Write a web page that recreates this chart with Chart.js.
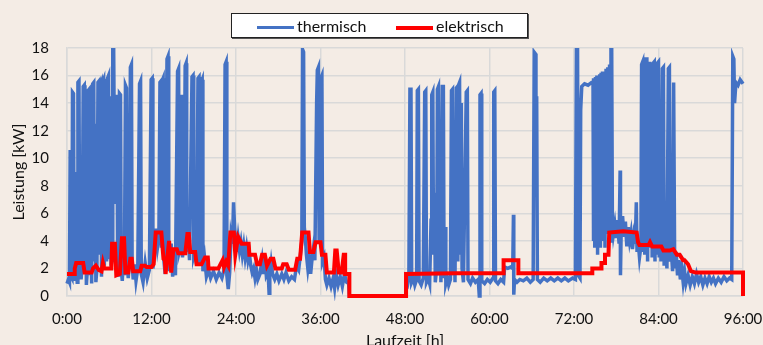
<!DOCTYPE html>
<html>
<head>
<meta charset="utf-8">
<script src="https://cdn.jsdelivr.net/npm/chart.js@4.4.1/dist/chart.umd.min.js"></script>
<style>
  body { margin: 0; background: #f4ece5; font-family: Lato, "Open Sans", sans-serif; }
  #wrap { position: relative; width: 763px; height: 345px; }
  #legende {
    position: absolute; left: 231px; top: 13px; width: 295px; height: 23px;
    background: #fff; border: 1px solid #222; box-shadow: 1px 1px 0 #555;
    font-size: 16px; color: #111;
  }
  #legende .item { position: absolute; top: 1px; line-height: 21px; }
  #legende .strich { display: inline-block; width: 37px; vertical-align: middle; margin-right: 3px; }
</style>
</head>
<body>
<div id="wrap">
  <canvas id="leistungChart" width="763" height="345"></canvas>
  <div id="legende">
    <span class="item" style="left:25px"><span class="strich" style="border-top:3px solid #4472c4"></span>thermisch</span>
    <span class="item" style="left:164px"><span class="strich" style="border-top:4px solid #ff0000"></span>elektrisch</span>
  </div>
</div>
<script>
const thermTag1 = [
  [0,0.9],[0.2,1.2],[0.35,1.0],[0.45,10.6],[0.5,1.5],[0.7,1.3],[0.78,14.8],[0.92,14.7],[1.0,4.0],[1.08,9.0],
  [1.15,1.1],[1.3,2.4],[1.45,1.0],[1.55,15.5],[1.7,15.6],[1.8,3.0],[1.9,7.5],[2.0,1.2],[2.15,2.2],[2.3,15.2],
  [2.45,15.3],[2.55,1.6],[2.65,9.5],[2.75,0.8],[2.9,2.0],[3.0,14.9],[3.15,15.0],[3.25,1.5],[3.35,8.0],[3.5,0.9],
  [3.65,15.4],[3.8,15.5],[3.9,2.5],[4.0,12.5],[4.1,1.0],[4.25,2.0],[4.4,15.5],[4.55,15.6],[4.6,3.0],[4.7,15.3],
  [4.85,15.5],[4.9,1.4],[5.05,15.5],[5.2,15.7],[5.3,2.2],[5.4,15.5],[5.55,15.6],[5.62,2.5],[5.75,15.8],[5.9,16.0],
  [6.0,2.8],[6.1,14.5],[6.25,2.2],[6.4,2.6],[6.5,18.5],[6.62,18.5],[6.68,14.4],[6.76,13.7],[6.82,6.8],[6.88,14.2],
  [6.98,13.8],[7.08,14.6],[7.18,3.5],[7.3,1.4],[7.45,14.7],[7.6,14.6],[7.7,2.0],[7.85,1.1],[8.0,2.6],[8.15,1.5],
  [8.3,15.3],[8.45,15.1],[8.55,2.2],[8.7,1.3],[8.85,2.5],[9.0,16.6],[9.15,16.8],[9.25,2.4],[9.4,1.2],[9.6,2.3],
  [9.8,1.1],[10.05,2.0],[10.3,15.4],[10.45,15.6],[10.55,1.6],[10.8,1.0],[11.1,2.4],[11.4,1.3],[11.7,1.9],[11.95,15.7],
  [12.1,15.8],[12.2,2.0],[12.4,2.9],[12.6,4.9],[12.85,3.5],[13.05,4.2],[13.2,15.5],[13.35,15.6],[13.42,3.5],[13.5,15.6],
  [13.65,15.8],[13.75,2.6],[13.95,1.6],[14.2,17.2],[14.35,17.4],[14.45,3.2],[14.6,1.8],[14.8,3.8],[15.0,1.4],[15.2,2.9],
  [15.4,1.5],[15.7,16.3],[15.85,16.5],[15.95,3.2],[16.15,3.6],[16.3,14.6],[16.4,2.8],[16.6,3.9],[16.78,16.7],[16.92,16.9],
  [17.0,3.2],[17.2,4.6],[17.4,2.6],[17.75,15.9],[17.9,16.0],[18.0,2.9],[18.2,3.3],[18.4,2.3],[18.6,15.8],[18.75,15.9],
  [18.85,2.2],[19.05,15.5],[19.2,15.7],[19.3,1.8],[19.55,2.7],[19.8,1.4],[20.1,1.9],[20.4,1.3],[20.8,1.8],[21.2,1.2],
  [21.6,1.7],[22.0,1.3],[22.3,1.9],[22.45,16.8],[22.6,17.0],[22.7,1.5],[22.9,0.5],[23.1,1.7],[23.3,4.4],[23.5,3.8],
  [23.65,6.8],[23.8,5.0],[23.95,4.0]
];
const thermTag2 = [
  [24.1,3.2],[24.3,4.2],[24.5,3.3],[24.7,3.9],[24.9,3.0],[25.1,3.7],[25.3,2.8],[25.5,3.5],[25.7,2.6],[25.9,3.1],
  [26.1,2.2],[26.3,1.7],[26.5,2.0],[26.7,1.3],[26.9,1.9],[27.1,1.2],[27.4,1.6],[27.7,2.6],[27.9,1.6],[28.1,2.8],
  [28.3,1.5],[28.55,1.8],[28.7,0.2],[28.8,1.5],[29.0,2.4],[29.2,1.6],[29.5,1.2],[29.8,1.6],[30.1,1.1],[30.5,1.6],
  [30.8,1.2],[31.1,1.7],[31.5,1.1],[31.9,1.4],[32.3,1.2],[32.6,2.2],[32.9,1.9],[33.15,3.0],[33.35,4.0],[33.45,17.9],
  [33.6,17.7],[33.7,5.0],[33.85,4.2],[34.0,3.0],[34.2,2.0],[34.4,2.8],[34.6,1.6],[34.8,2.7],[35.0,3.5],[35.2,2.6],
  [35.45,14.0],[35.55,16.4],[35.7,16.6],[35.8,4.0],[35.95,12.0],[36.05,15.8],[36.2,16.0],[36.3,2.5],[36.5,2.8],[36.7,1.2],
  [36.9,0.8],[37.2,1.3],[37.5,0.7],[37.8,1.3],[38.0,0.6],[38.2,1.6],[38.5,0.8],[38.8,1.4],[39.1,0.7],[39.4,1.6],
  [39.7,1.0],[40.0,0.9],[40.1,0],[48.1,0]
];
const thermTag3 = [
  [48.15,1.2],[48.4,0.9],[48.55,1.3],[48.7,15.0],[48.85,15.0],[48.95,1.0],[49.2,1.3],[49.4,0.8],[49.65,1.2],[49.75,14.9],
  [49.9,15.0],[50.0,1.1],[50.3,0.8],[50.6,1.3],[50.8,14.8],[50.95,14.9],[51.05,1.0],[51.3,1.3],[51.5,0.9],[51.7,5.5],
  [51.8,14.6],[51.95,14.8],[52.05,3.0],[52.2,7.5],[52.3,1.0],[52.5,2.0],[52.6,15.0],[52.75,15.2],[52.85,1.5],[53.0,6.5],
  [53.1,1.0],[53.3,15.2],[53.45,15.2],[53.55,1.3],[53.7,5.0],[53.8,0.9],[54.0,1.3],[54.2,0.8],[54.45,1.2],[54.6,14.9],
  [54.75,15.0],[54.85,1.5],[55.0,6.0],[55.1,1.0],[55.3,15.1],[55.45,15.2],[55.5,2.5],[55.6,15.3],[55.75,15.5],[55.85,3.0],
  [56.0,14.0],[56.1,2.0],[56.3,1.0],[56.7,14.8],[56.85,14.9],[56.95,1.2],[57.3,0.9],[57.6,1.3],[58.0,1.0],[58.4,1.2],
  [58.55,0.0],[58.65,14.6],[58.8,14.7],[58.9,1.1],[59.3,0.9],[59.7,1.2],[60.1,1.0],[60.5,1.3],[60.6,14.8],[60.75,14.9],
  [60.85,1.1],[61.2,0.9],[61.6,1.2],[62.0,1.0],[62.15,2.1],[62.6,2.0],[63.0,2.1],[63.3,2.0],[63.4,5.9],[63.45,0.1],
  [63.55,1.2],[63.9,1.0],[64.3,1.2],[64.8,1.1],[65.3,1.3],[65.8,1.0],[66.2,1.2],[66.35,17.7],[66.5,17.6],[66.6,12.0],
  [66.7,14.5],[66.8,1.2],[67.2,1.0],[67.7,1.3],[68.2,1.1],[68.7,1.3],[69.2,1.1],[69.7,1.3],[70.2,1.1],[70.7,1.3],
  [71.2,1.1],[71.8,1.3]
];
const thermTag4 = [
  [72.2,1.2],[72.35,18.5],[72.5,18.5],[72.6,1.5],[72.85,1.3],[72.95,13.5],[73.1,15.2],[73.5,15.4],[74.0,15.3],[74.5,15.5],
  [74.7,15.5],[74.75,4.0],[74.8,15.8],[74.95,3.5],[75.05,15.9],[75.15,5.0],[75.25,16.0],[75.35,3.0],[75.45,16.0],[75.55,6.0],
  [75.65,16.1],[75.75,3.5],[75.85,16.2],[75.95,5.0],[76.05,16.3],[76.15,4.0],[76.3,16.2],[76.4,3.5],[76.55,16.5],[76.65,4.5],
  [76.8,16.6],[76.9,5.0],[77.05,16.8],[77.15,4.0],[77.25,18.5],[77.35,18.5],[77.45,5.5],[77.6,4.5],[77.8,5.2],[78.0,4.2],
  [78.2,5.5],[78.4,3.8],[78.55,9.1],[78.6,1.5],[78.7,4.8],[78.9,5.8],[79.1,4.3],[79.3,5.4],[79.5,3.6],[79.7,5.0],
  [79.9,4.0],[80.1,4.6],[80.3,3.4],[80.5,4.4],[80.7,3.8],[80.85,6.8],[80.95,3.2],[81.1,4.0],[81.3,2.8],[81.5,3.6],
  [81.6,16.8],[81.75,17.0],[81.85,3.2],[81.95,12.0],[82.05,3.0],[82.2,17.2],[82.35,17.2],[82.45,2.5],[82.6,16.5],[82.75,17.0],
  [82.85,3.5],[83.0,15.0],[83.1,2.8],[83.25,16.9],[83.4,17.0],[83.5,2.5],[83.6,12.0],[83.7,3.0],[83.85,16.9],[84.0,17.0],
  [84.1,2.8],[84.25,14.0],[84.35,2.5],[84.55,16.5],[84.7,16.6],[84.8,2.2],[85.0,3.5],[85.2,2.0],[85.4,16.5],[85.55,16.6],
  [85.65,2.5],[85.8,3.5],[86.0,1.8],[86.15,15.5],[86.3,2.0],[86.5,3.2],[86.7,1.5],[86.9,2.6],[87.1,1.2],[87.3,2.0],
  [87.5,1.0],[87.7,1.8],[87.9,0.9],[88.2,1.5],[88.5,0.8],[88.8,1.4],[89.1,0.9],[89.4,1.6],[89.7,1.0],[90.0,1.4],
  [90.3,0.8],[90.6,1.3],[90.9,0.9],[91.2,1.4],[91.5,1.0],[91.8,1.3],[92.1,0.9],[92.5,1.3],[92.9,1.0],[93.3,1.4],
  [93.7,1.1],[94.1,1.3],[94.4,1.2],[94.55,17.4],[94.7,17.2],[94.8,14.0],[95.0,15.5],[95.3,15.3],[95.6,15.7],[96.0,15.4]
];
const elektrisch = [
  [0,1.6],[1.0,1.6],[1.1,2.0],[1.3,2.4],[2.3,2.4],[2.5,1.7],[3.5,1.7],[3.7,2.0],[4.1,2.2],[4.5,1.9],
  [4.9,1.8],[5.1,2.4],[5.3,2.0],[6.3,2.0],[6.4,3.8],[6.8,3.8],[7.0,1.5],[7.5,1.6],[7.8,4.2],[8.1,4.2],
  [8.3,1.7],[8.7,1.7],[9.0,2.7],[9.2,2.7],[9.4,1.8],[10.4,1.8],[10.6,2.2],[11.1,2.2],[11.3,2.1],[12.0,2.1],
  [12.3,2.3],[12.6,4.6],[13.4,4.6],[13.7,2.7],[13.9,2.6],[14.0,1.6],[14.2,2.6],[14.5,4.0],[14.8,1.7],[15.1,3.4],
  [15.6,3.4],[15.8,3.1],[16.8,3.1],[17.1,4.5],[17.3,4.5],[17.5,3.2],[18.2,3.2],[18.4,2.3],[19.1,2.3],[19.6,2.8],
  [20.0,2.8],[20.1,2.0],[21.5,2.0],[21.7,2.2],[22.1,2.6],[22.3,2.1],[22.6,2.5],[22.9,2.2],[23.2,4.6],[23.7,4.6],
  [23.9,3.0],[24.3,4.3],[24.8,3.8],[25.8,3.8],[25.9,3.0],[26.7,3.0],[27.0,2.3],[27.4,2.3],[27.7,3.0],[28.1,3.0],
  [28.4,2.2],[28.9,2.7],[29.3,2.7],[29.6,2.0],[30.5,2.0],[30.7,2.3],[31.2,2.3],[31.5,1.9],[32.4,1.9],[32.7,2.7],
  [33.1,2.7],[33.4,4.6],[34.3,4.6],[34.5,3.2],[35.0,3.2],[35.3,3.9],[36.0,3.9],[36.2,3.0],[36.7,3.0],[36.9,1.7],
  [37.9,1.7],[38.1,3.3],[38.3,3.3],[38.6,1.7],[39.0,1.7],[39.3,3.0],[39.5,3.0],[39.5,1.6],[40.1,1.6],[40.1,0],
  [48.15,0],[48.15,1.6],[55.0,1.65],[62.0,1.65],[62.0,2.6],[64.1,2.6],[64.1,1.65],[74.6,1.65],[74.6,2.0],[75.9,2.0],
  [75.9,2.4],[76.4,2.4],[76.4,3.0],[76.9,3.0],[77.0,4.6],[79.0,4.7],[80.9,4.6],[81.1,3.9],[81.3,3.7],[82.6,3.7],
  [82.8,3.9],[83.1,3.6],[84.4,3.6],[84.7,3.3],[85.6,3.3],[86.1,3.4],[86.6,3.0],[87.0,3.0],[87.5,2.6],[87.7,2.6],
  [88.2,2.3],[88.6,1.8],[89.3,1.7],[96.0,1.7],[96.0,0]
];
const xTicks = [0, 12, 24, 36, 48, 60, 72, 84, 96];
const yMax = 18;

const thermisch = thermTag1.concat(thermTag2, thermTag3, thermTag4);
const toPoints = arr => arr.map(p => ({ x: p[0], y: p[1] }));

const schrift = { family: 'Lato, "Open Sans", sans-serif', size: 15 };
const gitter = { color: '#d9d9d9', lineWidth: 1.5, drawTicks: false };

const ctx = document.getElementById('leistungChart').getContext('2d');
const leistungChart = new Chart(ctx, {
    type: 'line',
    data: {
        datasets: [{
            label: 'thermisch',
            data: toPoints(thermisch),
            borderColor: '#4472c4',
            borderWidth: 3.5,
            pointRadius: 0,
            tension: 0,
            order: 2,
            clip: { left: 5, top: 0, right: 5, bottom: 5 }
        }, {
            label: 'elektrisch',
            data: toPoints(elektrisch),
            borderColor: '#ff0000',
            borderWidth: 4,
            pointRadius: 0,
            tension: 0,
            order: 1,
            clip: { left: 5, top: 0, right: 5, bottom: 5 }
        }]
    },
    options: {
        responsive: false,
        animation: false,
        layout: { padding: { top: 48, right: 20, left: 0, bottom: 0 } },
        plugins: {
            legend: { display: false },
            tooltip: { enabled: false }
        },
        scales: {
            x: {
                type: 'linear',
                min: 0,
                max: 96,
                afterBuildTicks: scale => { scale.ticks = xTicks.map(v => ({ value: v })); },
                afterFit: scale => {
                    scale.height = 49;
                    scale.paddingLeft = 0;
                    scale.paddingRight = 0;
                },
                ticks: {
                    font: schrift,
                    color: '#111',
                    padding: 14,
                    maxRotation: 0,
                    callback: v => v + ':00'
                },
                grid: gitter,
                border: { color: '#d9d9d9', width: 1.5 },
                title: {
                    display: true,
                    text: 'Laufzeit [h]',
                    font: { family: schrift.family, size: 16 },
                    color: '#111',
                    padding: { top: 0, bottom: -5 }
                }
            },
            y: {
                min: 0,
                max: yMax,
                afterFit: scale => { scale.width = 67; },
                ticks: {
                    stepSize: 2,
                    font: schrift,
                    color: '#111',
                    padding: 18
                },
                grid: gitter,
                border: { color: '#d9d9d9', width: 1.5 },
                title: {
                    display: true,
                    text: 'Leistung [kW]',
                    font: { family: schrift.family, size: 16 },
                    color: '#111',
                    padding: { top: 9, bottom: 0 }
                }
            }
        }
    }
});
</script>
</body>
</html>
